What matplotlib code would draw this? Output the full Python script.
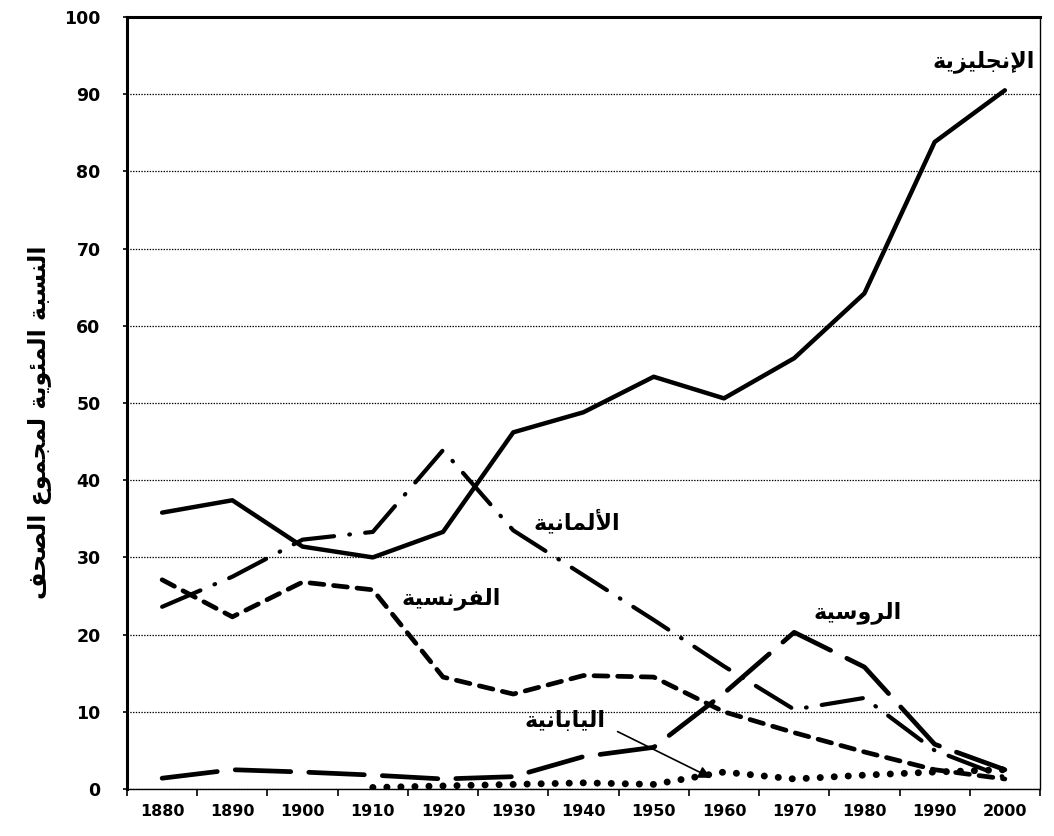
import numpy as np
import matplotlib
matplotlib.use("Agg")
import matplotlib.pyplot as plt

# data (percent of all newspapers by language)
years = [1880, 1890, 1900, 1910, 1920, 1930, 1940, 1950, 1960, 1970, 1980, 1990, 2000]
english = [35.8, 37.4, 31.4, 30.0, 33.3, 46.2, 48.8, 53.4, 50.6, 55.8, 64.2, 83.8, 90.5]
german = [23.6, 27.5, 32.3, 33.3, 43.9, 33.5, 27.7, 21.9, 15.9, 10.3, 11.8, 5.0, 1.5]
french = [27.1, 22.3, 26.8, 25.8, 14.5, 12.3, 14.7, 14.5, 10.0, 7.3, 4.8, 2.5, 1.3]
russian = [1.4, 2.5, 2.2, 1.8, 1.3, 1.6, 4.2, 5.4, 12.4, 20.3, 15.8, 5.8, 2.5]
japanese = [np.nan, np.nan, np.nan, 0.2, 0.4, 0.6, 0.8, 0.6, 2.2, 1.3, 1.8, 2.2, 2.5]

ylabel = "النسبة المئوية لمجموع الصحف"
names = ["الإنجليزية", "الألمانية", "الفرنسية", "الروسية", "اليابانية"]

# --- tiny arabic shaper: matplotlib has no bidi / joining support ---
FORMS = {  # isolated, final, initial, medial
    "ا": ("\uFE8D", "\uFE8E"), "أ": ("\uFE83", "\uFE84"), "إ": ("\uFE87", "\uFE88"),
    "ة": ("\uFE93", "\uFE94"), "ر": ("\uFEAD", "\uFEAE"), "ز": ("\uFEAF", "\uFEB0"),
    "و": ("\uFEED", "\uFEEE"),
    "ب": ("\uFE8F", "\uFE90", "\uFE91", "\uFE92"), "ج": ("\uFE9D", "\uFE9E", "\uFE9F", "\uFEA0"),
    "ح": ("\uFEA1", "\uFEA2", "\uFEA3", "\uFEA4"), "س": ("\uFEB1", "\uFEB2", "\uFEB3", "\uFEB4"),
    "ص": ("\uFEB9", "\uFEBA", "\uFEBB", "\uFEBC"), "ع": ("\uFEC9", "\uFECA", "\uFECB", "\uFECC"),
    "ف": ("\uFED1", "\uFED2", "\uFED3", "\uFED4"), "ل": ("\uFEDD", "\uFEDE", "\uFEDF", "\uFEE0"),
    "م": ("\uFEE1", "\uFEE2", "\uFEE3", "\uFEE4"), "ن": ("\uFEE5", "\uFEE6", "\uFEE7", "\uFEE8"),
    "ي": ("\uFEF1", "\uFEF2", "\uFEF3", "\uFEF4"), "ئ": ("\uFE89", "\uFE8A", "\uFE8B", "\uFE8C"),
}
LAMALEF = {"ا": ("\uFEFB", "\uFEFC"), "أ": ("\uFEF7", "\uFEF8"), "إ": ("\uFEF9", "\uFEFA")}


def shape(text):
    chars = list(text)
    out = []
    i = 0
    while i < len(chars):
        c = chars[i]
        prev = chars[i - 1] if i > 0 else None
        join_prev = prev in FORMS and len(FORMS[prev]) == 4
        if c == "ل" and i + 1 < len(chars) and chars[i + 1] in LAMALEF:
            out.append(LAMALEF[chars[i + 1]][1 if join_prev else 0])
            i += 2
            continue
        if c not in FORMS:
            out.append(c)
            i += 1
            continue
        f = FORMS[c]
        nxt = chars[i + 1] if i + 1 < len(chars) else None
        join_next = len(f) == 4 and nxt in FORMS
        if join_prev and join_next:
            out.append(f[3])
        elif join_prev:
            out.append(f[1])
        elif join_next:
            out.append(f[2])
        else:
            out.append(f[0])
        i += 1
    return "".join(out)[::-1]


plt.rcParams["lines.scale_dashes"] = False
plt.rcParams["font.family"] = ["DejaVu Sans"]

fig = plt.figure(figsize=(10.54, 8.36), dpi=100)
ax = fig.add_axes([0.1205, 0.0562, 0.8662, 0.9235])

x = np.arange(len(years))
ax.plot(x, english, color="black", lw=3.2, solid_capstyle="round", solid_joinstyle="round")
ax.plot(x, german, color="black", lw=3.0, linestyle=(0, (30, 11, 0.5, 11)), dash_capstyle="round")
ax.plot(x, french, color="black", lw=3.4, linestyle=(0, (10, 7)), dash_capstyle="round")
ax.plot(x, russian, color="black", lw=3.4, linestyle=(0, (40, 13)), dash_capstyle="round")
ax.plot(x, japanese, color="black", lw=5.0, linestyle=(0, (0.1, 10)), dash_capstyle="round")

ax.set_xlim(-0.5, len(years) - 0.5)
ax.set_ylim(0, 100)
ax.set_yticks(range(0, 101, 10))
ax.set_xticks(x)
ax.set_xticklabels([str(y) for y in years])
ax.set_xticks(np.arange(len(years) + 1) - 0.5, minor=True)
ax.tick_params(axis="x", which="major", length=0, pad=11, labelsize=11.5)
ax.tick_params(axis="x", which="minor", length=5, width=1.2, direction="out")
ax.tick_params(axis="y", length=3, width=1.2, pad=16, labelsize=12.5)
for lab in ax.get_xticklabels() + ax.get_yticklabels():
    lab.set_fontweight("bold")

ax.grid(axis="y", linestyle=(0, (1, 1)), color="black", lw=0.9)
ax.spines["top"].set_linewidth(2.2)
ax.spines["left"].set_linewidth(2.2)
ax.spines["right"].set_linewidth(1.0)
ax.spines["right"].set_linestyle((0, (2, 1)))
ax.spines["bottom"].set_linewidth(1.0)
ax.spines["bottom"].set_linestyle((0, (1, 1)))

fig.text(0.038, 0.495, shape(ylabel), rotation=90, ha="center", va="center",
         fontsize=17, fontweight="bold")

lab_kw = dict(ha="center", va="center", fontsize=16, fontweight="bold")
ax.text(11.7, 94.2, shape(names[0]), **lab_kw)
ax.text(5.9, 34.7, shape(names[1]), **lab_kw)
ax.text(4.12, 24.7, shape(names[2]), **lab_kw)
ax.text(9.91, 22.8, shape(names[3]), **lab_kw)
ax.text(5.73, 8.9, shape(names[4]), **lab_kw)
ax.annotate("", xy=(7.85, 1.3), xytext=(6.45, 7.6),
            arrowprops=dict(arrowstyle="-|>", color="black", lw=1.2, mutation_scale=18))

fig.savefig("out.png", dpi=100)
